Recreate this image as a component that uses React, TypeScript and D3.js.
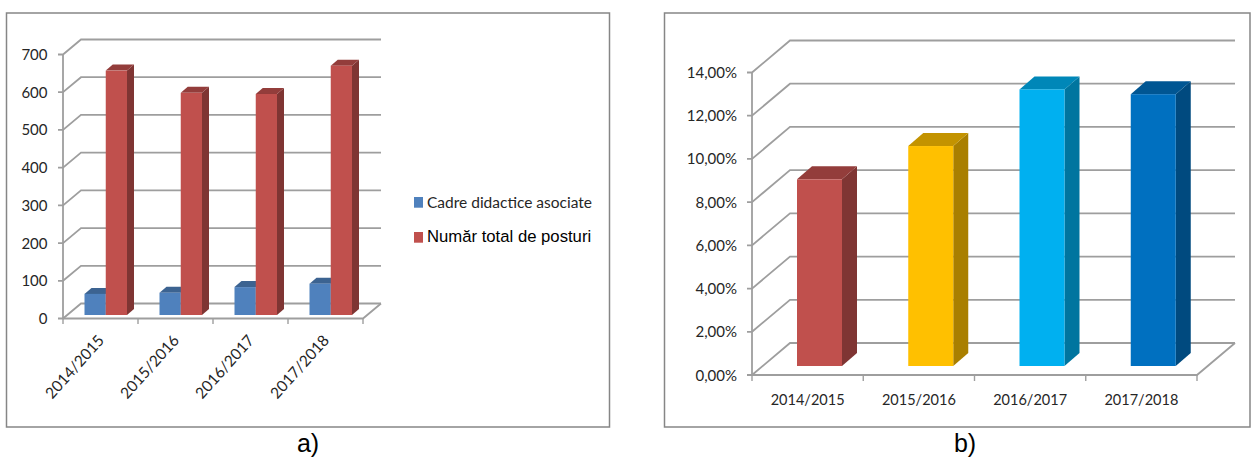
import * as d3 from 'd3';

const years = ['2014/2015', '2015/2016', '2016/2017', '2017/2018'];
const associateStaff = [56, 59, 74, 83];
const totalPosts = [648, 589, 586, 661];
const associateShare = [8.64, 10.18, 12.8, 12.58];

const ticksA = [0, 100, 200, 300, 400, 500, 600, 700];
const ticksB = [0, 2, 4, 6, 8, 10, 12, 14];

const legendLabels = ['Cadre didactice asociate', 'Număr total de posturi'];
const shareColors = ['#c0504d', '#ffc000', '#00b0f0', '#0070c0'];

const FONT = 'Lato, sans-serif';
const GRID = '#9e9e9e';

type BarProps = { x: number; y: number; w: number; base: number; dx: number; dy: number; color: string };

// one box: front, top and side faces
const Bar3D = ({ x, y, w, base, dx, dy, color }: BarProps) => {
    const c = d3.color(color)!;
    const top = c.darker(0.75).formatHex();
    const side = c.darker(1.15).formatHex();
    return (
        <g>
            <path d={`M${x + w},${y}L${x + w + dx},${y - dy}V${base - dy}L${x + w},${base}Z`} fill={side} />
            <path d={`M${x},${y}L${x + dx},${y - dy}H${x + w + dx}L${x + w},${y}Z`} fill={top} />
            <rect x={x} y={y} width={w} height={base - y} fill={color} />
        </g>
    );
};

type FrameProps = {
    x0: number; x1: number; y0: number; y1: number; dx: number; dy: number;
    ticks: number[]; y: d3.ScaleLinear<number, number>; fmt: (v: number) => string; labelX: number;
};

// walls of the 3D plot: gridlines, left wall, floor and tick marks
const Walls = ({ x0, x1, y0, y1, dx, dy, ticks, y, fmt, labelX }: FrameProps) => (
    <g fill="none" stroke={GRID} strokeWidth={1.8}>
        {ticks.map((t) => (
            <g key={t}>
                <path d={`M${x0 - 5},${y(t)}H${x0}L${x0 + dx},${y(t) - dy}H${x1 + dx}`} />
                <text x={labelX} y={y(t) + 5.5} textAnchor="end" fontFamily={FONT} fontSize={15} fill="#262626" stroke="none">
                    {fmt(t)}
                </text>
            </g>
        ))}
        <path d={`M${x0},${y1}V${y0}`} />
        <path d={`M${x0},${y0}H${x1}L${x1 + dx},${y0 - dy}`} />
    </g>
);

const ChartA = () => {
    const x = d3.scaleBand<string>().domain(years).range([63, 363]);
    const y = d3.scaleLinear().domain([0, 700]).range([318.5, 54.5]);
    const lift = 3.5;
    const barW = 21.25;
    const pad = 21.5;
    const dx = 18;
    const dy = 15;
    const barY = (v: number) => y(v) - lift;
    return (
        <g>
            <Walls x0={63} x1={363} y0={318.5} y1={54.5} dx={dx} dy={dy} ticks={ticksA} y={y} fmt={(v) => String(v)} labelX={47.5} />
            {[...years, ''].map((d, i) => {
                const tx = 63 + i * x.step();
                return <line key={i} x1={tx} x2={tx} y1={318.5} y2={324} stroke={GRID} strokeWidth={1.4} />;
            })}
            {years.map((d, i) => (
                <g key={d}>
                    <Bar3D x={x(d)! + pad} y={barY(associateStaff[i])} w={barW} base={y(0) - lift} dx={7} dy={6} color="#4f81bd" />
                    <Bar3D x={x(d)! + pad + barW} y={barY(totalPosts[i])} w={barW} base={y(0) - lift} dx={7} dy={6} color="#c0504d" />
                    <text
                        transform={`translate(${x(d)! + 42},341) rotate(-48)`}
                        textAnchor="end"
                        fontFamily={FONT}
                        fontSize={15.5}
                        fill="#262626"
                    >
                        {d}
                    </text>
                </g>
            ))}
            {legendLabels.map((l, i) => (
                <g key={l}>
                    <rect x={414} y={197 + i * 35} width={9} height={10.7} fill={i === 0 ? '#4f81bd' : '#c0504d'} />
                    <text
                        x={427}
                        y={208 + i * 34}
                        fontFamily={i === 0 ? FONT : 'Liberation Sans, sans-serif'}
                        fontSize={i === 0 ? 15.5 : 16.7}
                        fill={i === 0 ? '#262626' : '#000'}
                    >
                        {l}
                    </text>
                </g>
            ))}
        </g>
    );
};

const ChartB = () => {
    const x = d3.scaleBand<string>().domain(years).range([752, 1197]);
    const y = d3.scaleLinear().domain([0, 14]).range([375, 72.5]);
    const lift = 9;
    const barW = 45;
    const pad = 45;
    const pct = (v: number) => `${v.toFixed(2).replace('.', ',')}%`;
    return (
        <g>
            <Walls x0={752} x1={1197} y0={375} y1={72.5} dx={38} dy={32} ticks={ticksB} y={y} fmt={pct} labelX={737} />
            {[...years, ''].map((d, i) => {
                const tx = 752 + i * x.step();
                return <line key={i} x1={tx} x2={tx} y1={375} y2={381} stroke={GRID} strokeWidth={1.4} />;
            })}
            {years.map((d, i) => (
                <g key={d}>
                    <Bar3D x={x(d)! + pad} y={y(associateShare[i]) - lift} w={barW} base={y(0) - lift} dx={15} dy={13} color={shareColors[i]} />
                    <text x={x(d)! + x.bandwidth() / 2} y={405} textAnchor="middle" fontFamily={FONT} fontSize={14.5} fill="#262626">
                        {d}
                    </text>
                </g>
            ))}
        </g>
    );
};

const App = () => (
    <svg width={1254} height={459} style={{ position: 'absolute', left: 0, top: 0 }}>
        <rect x={6.5} y={13} width={603} height={414} fill="#fff" stroke="#868686" strokeWidth={1.5} />
        <rect x={664.5} y={13} width={585.5} height={414} fill="#fff" stroke="#868686" strokeWidth={1.5} />
        <ChartA />
        <ChartB />
        <text x={308} y={452} textAnchor="middle" fontFamily="Liberation Sans, sans-serif" fontSize={25} fill="#000">a)</text>
        <text x={965} y={452} textAnchor="middle" fontFamily="Liberation Sans, sans-serif" fontSize={25} fill="#000">b)</text>
    </svg>
);

export default App;
